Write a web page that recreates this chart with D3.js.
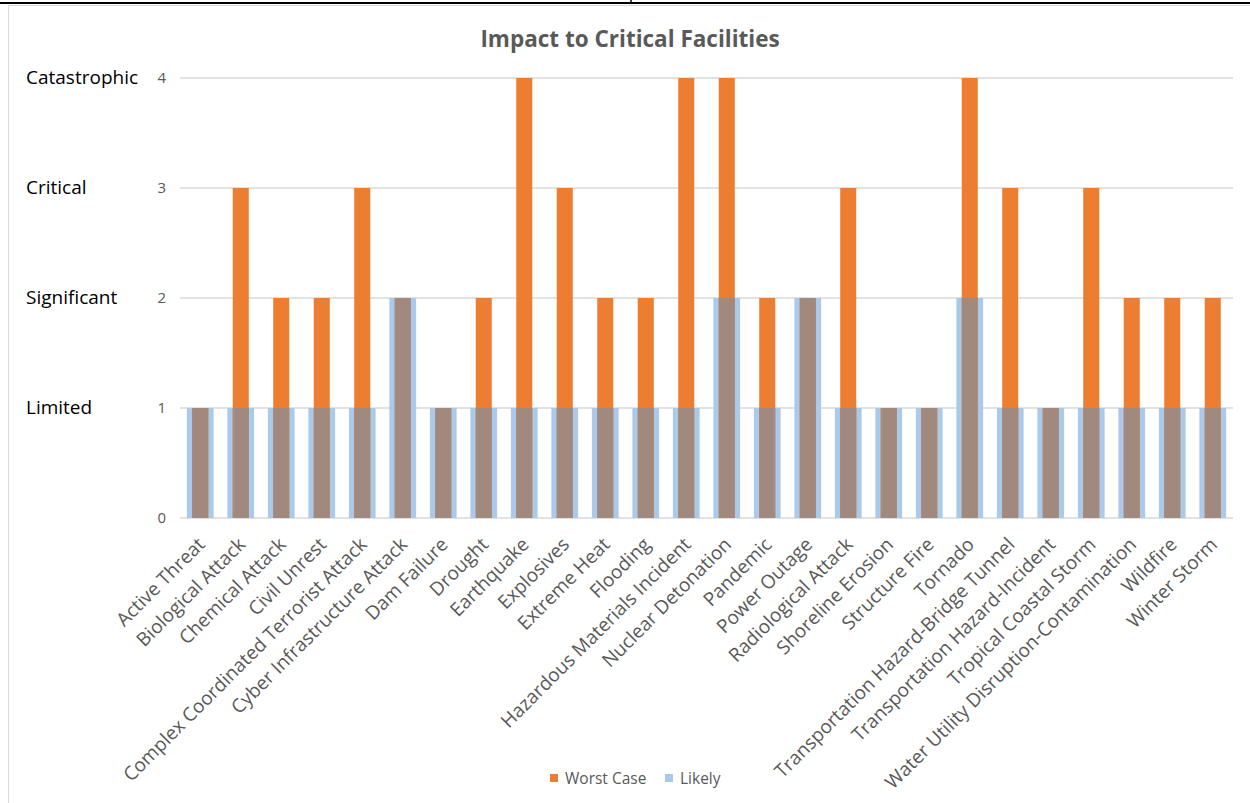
<!DOCTYPE html>
<html>
<head>
<meta charset="utf-8">
<script src="https://cdn.jsdelivr.net/npm/d3@7"></script>
<style>
  html, body { margin: 0; padding: 0; background: #fff; }
  svg { display: block; }
</style>
</head>
<body>
<svg id="chart" width="1250" height="803"></svg>
<script>
// Hazard categories along the x axis
const categories = [
  "Active Threat", "Biological Attack", "Chemical Attack", "Civil Unrest",
  "Complex Coordinated Terrorist Attack", "Cyber Infrastructure Attack",
  "Dam Failure", "Drought", "Earthquake", "Explosives", "Extreme Heat",
  "Flooding", "Hazardous Materials Incident", "Nuclear Detonation",
  "Pandemic", "Power Outage", "Radiological Attack", "Shoreline Erosion",
  "Structure Fire", "Tornado", "Transportation Hazard-Bridge Tunnel",
  "Transportation Hazard-Incident", "Tropical Coastal Storm",
  "Water Utility Disruption-Contamination", "Wildfire", "Winter Storm"
];

// Impact scores per category
const worstCase = [1, 3, 2, 2, 3, 2, 1, 2, 4, 3, 2, 2, 4, 4, 2, 2, 3, 1, 1, 4, 3, 1, 3, 2, 2, 2];
const likely    = [1, 1, 1, 1, 1, 2, 1, 1, 1, 1, 1, 1, 1, 2, 1, 2, 1, 1, 1, 2, 1, 1, 1, 1, 1, 1];

// Axis ticks and the severity names beside them
const yTicks = [0, 1, 2, 3, 4];
const levelLabels = [
  { value: 1, name: "Limited" },
  { value: 2, name: "Significant" },
  { value: 3, name: "Critical" },
  { value: 4, name: "Catastrophic" }
];

const seriesNames = ["Worst Case", "Likely"];
const colors = { worst: "#ED7D31", likely: "#A9CAEA", overlap: "#A1897E" };

const svg = d3.select("#chart");
const font = "'Open Sans', 'DejaVu Sans', sans-serif";

// Frame lines around the chart
svg.append("line").attr("x1", 0).attr("x2", 1250).attr("y1", 3).attr("y2", 3)
  .attr("stroke", "#000").attr("stroke-width", 2);
svg.append("line").attr("x1", 631).attr("x2", 631).attr("y1", 0).attr("y2", 3)
  .attr("stroke", "#000").attr("stroke-width", 1.5);
svg.append("line").attr("x1", 8).attr("x2", 1250).attr("y1", 5.5).attr("y2", 5.5)
  .attr("stroke", "#d9d9d9").attr("stroke-width", 1);
svg.append("line").attr("x1", 8.5).attr("x2", 8.5).attr("y1", 5).attr("y2", 803)
  .attr("stroke", "#d9d9d9").attr("stroke-width", 1);

const plot = { left: 180, right: 1233, top: 78, bottom: 518 };

const x = d3.scaleBand()
  .domain(categories)
  .range([plot.left, plot.right])
  .paddingInner(0.34)
  .paddingOuter(0.17);

const y = d3.scaleLinear()
  .domain([0, 4])
  .range([plot.bottom, plot.top]);

// Gridlines
svg.append("g")
  .selectAll("line")
  .data(yTicks)
  .join("line")
  .attr("x1", plot.left).attr("x2", plot.right)
  .attr("y1", d => y(d)).attr("y2", d => y(d))
  .attr("stroke", "#d9d9d9").attr("stroke-width", 1.3);

// Y axis tick labels
const yAxis = d3.axisLeft(y).tickValues(yTicks).tickSize(0).tickPadding(14).tickFormat(d3.format("d"));
const yAxisG = svg.append("g").attr("transform", `translate(${plot.left},0)`).call(yAxis);
yAxisG.select(".domain").remove();
yAxisG.selectAll("text")
  .attr("fill", "#595959").style("font-family", font).style("font-size", "15px");

// Severity names
svg.append("g")
  .selectAll("text")
  .data(levelLabels)
  .join("text")
  .attr("x", 26)
  .attr("y", d => y(d.value))
  .attr("dy", "0.3em")
  .attr("fill", "#000")
  .style("font-family", font)
  .style("font-size", "19px")
  .text(d => d.name);

const rows = categories.map((c, i) => ({ cat: c, worst: worstCase[i], likely: likely[i] }));
const narrow = x.bandwidth() * 0.6;
const narrowOffset = (x.bandwidth() - narrow) / 2;

// Likely bars (wide, behind)
svg.append("g")
  .selectAll("rect")
  .data(rows)
  .join("rect")
  .attr("x", d => x(d.cat))
  .attr("y", d => y(d.likely))
  .attr("width", x.bandwidth())
  .attr("height", d => y(0) - y(d.likely))
  .attr("fill", colors.likely);

// Worst case bars (narrow, in front)
svg.append("g")
  .selectAll("rect")
  .data(rows)
  .join("rect")
  .attr("x", d => x(d.cat) + narrowOffset)
  .attr("y", d => y(d.worst))
  .attr("width", narrow)
  .attr("height", d => y(0) - y(d.worst))
  .attr("fill", colors.worst);

// Where both series overlap the fill blends
svg.append("g")
  .selectAll("rect")
  .data(rows)
  .join("rect")
  .attr("x", d => x(d.cat) + narrowOffset)
  .attr("y", d => y(Math.min(d.worst, d.likely)))
  .attr("width", narrow)
  .attr("height", d => y(0) - y(Math.min(d.worst, d.likely)))
  .attr("fill", colors.overlap);

// Rotated category labels
svg.append("g")
  .selectAll("text")
  .data(categories)
  .join("text")
  .attr("transform", d => `translate(${x(d) + x.bandwidth() / 2 + 1},${plot.bottom + 23}) rotate(-45)`)
  .attr("text-anchor", "end")
  .attr("dy", "0.35em")
  .attr("fill", "#595959")
  .style("font-family", font)
  .style("font-size", "19px")
  .text(d => d);

// Title
svg.append("text")
  .attr("x", 630)
  .attr("y", 47)
  .attr("text-anchor", "middle")
  .attr("fill", "#595959")
  .style("font-family", font)
  .style("font-size", "22.5px")
  .style("font-weight", "bold")
  .text("Impact to Critical Facilities");

// Legend
const legend = svg.append("g").attr("transform", "translate(550,779)");
const legendItems = [
  { name: seriesNames[0], color: colors.worst, x: 0 },
  { name: seriesNames[1], color: colors.likely, x: 115 }
];
const li = legend.selectAll("g").data(legendItems).join("g")
  .attr("transform", d => `translate(${d.x},0)`);
li.append("rect").attr("x", 0).attr("y", -5).attr("width", 8).attr("height", 8).attr("fill", d => d.color);
li.append("text").attr("x", 15).attr("y", 0).attr("dy", "0.35em")
  .attr("fill", "#595959").style("font-family", font).style("font-size", "15.5px")
  .text(d => d.name);
</script>
</body>
</html>
